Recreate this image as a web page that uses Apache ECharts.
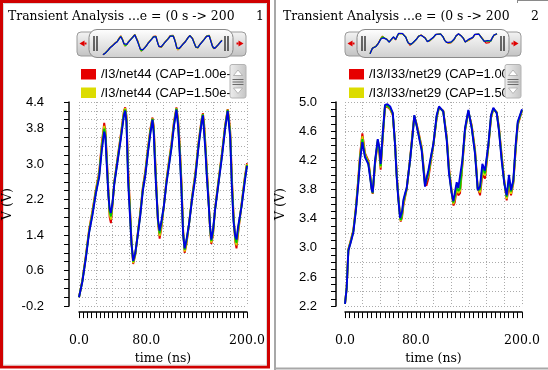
<!DOCTYPE html>
<html><head><meta charset="utf-8">
<script src="https://cdn.jsdelivr.net/npm/echarts@6/dist/echarts.min.js"></script>
<style>html,body{margin:0;padding:0;background:#fff}#c{width:548px;height:370px}</style>
</head><body><div id="c"></div>
<script>
// ---------- DATA ----------
const seriesColors = ['#e00000', '#d4d400', '#00c800', '#0000e0'];
const legendLeft = ['/I3/net44 (CAP=1.00e-1', '/I3/net44 (CAP=1.50e-1'];
const legendRight = ['/I3/I33/net29 (CAP=1.00e', '/I3/I33/net29 (CAP=1.50e'];
const titleLeft = 'Transient Analysis ...e = (0 s -> 200';
const titleRight = 'Transient Analysis ...e = (0 s -> 200';
const xTickLabels = ['0.0', '80.0', '200.0'];
const yTickLabelsLeft = ['-0.2', '0.6', '1.4', '2.2', '3.0', '3.8', '4.4'];
const yTickLabelsRight = ['2.2', '2.6', '3.0', '3.4', '3.8', '4.2', '4.6', '5.0'];

// left panel: /I3/net44, time (ns)
const timeL = [0,4,8,12,16,20,24,27,30,31.5,33,35,36.5,38,40,42,46,50,53.5,55,56.5,58.5,60.5,62.5,64.5,67,70,73,76,79,82,85,87.5,89,90.5,92,94,96,98,101,104,107,110,113,116,118,120,122,124,125.8,128,131,134.5,138.5,142.5,146,147.5,149,150.5,152,154,156,157.5,159.5,162,166,170,174,177,178.5,180,182,184,186,187.5,189.5,193.5,197.5,200];
const redL = [0.0,0.38,0.92,1.52,1.95,2.42,2.82,3.45,3.93,3.75,3.2,2.4,1.8,1.67,2.1,2.6,3.15,3.7,4.2,4.28,4.1,2.9,2.1,1.25,0.75,0.95,1.45,1.92,2.48,2.85,3.35,3.8,4.05,3.85,3.2,2.55,1.7,1.32,1.55,2.05,2.62,3.05,3.45,3.95,4.28,4.0,3.4,2.6,1.5,1.0,1.2,1.65,2.25,2.8,3.52,4.02,4.15,3.9,3.45,2.95,2.3,1.55,1.2,1.4,2.0,2.62,3.22,3.88,4.24,4.05,3.75,2.7,1.85,1.25,1.1,1.45,2.1,2.72,3.02];
const yellowL = [0.0,0.37,0.9,1.5,1.92,2.39,2.78,3.4,3.86,3.7,3.14,2.37,1.87,1.75,2.12,2.58,3.12,3.67,4.17,4.26,4.05,2.8,2.03,1.23,0.77,0.97,1.43,1.9,2.45,2.82,3.32,3.77,4.03,3.8,3.14,2.5,1.72,1.38,1.6,2.05,2.6,3.02,3.42,3.92,4.26,3.95,3.33,2.54,1.47,1.03,1.23,1.65,2.23,2.77,3.49,4.0,4.13,3.83,3.4,2.89,2.27,1.57,1.23,1.43,1.99,2.6,3.2,3.85,4.23,4.0,3.7,2.63,1.8,1.29,1.17,1.5,2.08,2.69,3.0];
const greenL = [0.0,0.36,0.88,1.47,1.88,2.36,2.74,3.34,3.8,3.65,3.07,2.33,1.93,1.82,2.14,2.57,3.1,3.63,4.13,4.23,4.0,2.7,1.97,1.22,0.8,0.98,1.42,1.87,2.43,2.78,3.28,3.73,4.02,3.75,3.07,2.45,1.74,1.44,1.65,2.05,2.57,2.98,3.38,3.88,4.25,3.9,3.27,2.47,1.43,1.07,1.27,1.65,2.21,2.73,3.46,3.97,4.12,3.77,3.35,2.83,2.23,1.58,1.27,1.47,1.98,2.57,3.17,3.83,4.22,3.95,3.65,2.55,1.75,1.33,1.23,1.55,2.06,2.66,2.98];
const blueL = [0.0,0.35,0.86,1.45,1.85,2.33,2.7,3.29,3.73,3.6,3.0,2.3,2.0,1.9,2.15,2.55,3.07,3.6,4.1,4.2,3.95,2.6,1.9,1.2,0.82,1.0,1.4,1.85,2.4,2.75,3.25,3.7,4.0,3.7,3.0,2.4,1.75,1.5,1.7,2.05,2.55,2.95,3.35,3.85,4.23,3.85,3.2,2.4,1.4,1.1,1.3,1.65,2.19,2.7,3.43,3.95,4.1,3.7,3.3,2.77,2.2,1.6,1.3,1.5,1.97,2.55,3.14,3.8,4.2,3.9,3.6,2.48,1.7,1.38,1.3,1.6,2.04,2.63,2.96];

// right panel: /I3/I33/net29, time (ns)
const timeR = [0,1.9,3.8,6.4,9.4,12.4,15,17,19.6,21,22.6,26.3,28,30.2,31.3,34,37,38.8,40.3,42.6,45.2,48,51,54,56.5,58.4,60.3,62.2,63,64.5,66,68,69.7,73.5,76.5,78.3,80.5,82.9,86.7,90.4,92,94.2,97.2,99.8,103.6,106.2,111,115,117.5,120.5,122.4,124,126.2,128,130,132.6,135.6,139.4,143.2,146.9,150,152.6,155.2,158.2,162,165,167.6,171.4,174,177,180,182.7,185.3,187.6,190.2,192.9,195.2,200];
const redR = [2.23,2.45,2.98,3.1,3.24,3.57,3.95,4.28,4.57,4.45,4.3,4.2,4.05,3.82,3.74,4.15,4.45,4.3,4.07,4.5,4.93,4.93,4.9,4.82,4.45,4.02,3.7,3.45,3.36,3.42,3.58,3.7,3.8,4.22,4.6,4.8,4.72,4.6,4.38,3.9,3.85,3.95,4.2,4.4,4.78,4.92,4.88,4.52,4.1,3.78,3.58,3.62,3.8,3.72,3.75,4.12,4.6,4.86,4.68,4.35,3.82,3.72,4.0,3.95,4.38,4.78,4.9,4.86,4.65,4.28,3.92,3.65,3.85,3.72,3.88,4.35,4.68,4.88];
const yellowR = [2.23,2.45,2.97,3.09,3.23,3.55,3.93,4.25,4.53,4.42,4.28,4.18,4.03,3.81,3.75,4.17,4.46,4.33,4.1,4.52,4.94,4.94,4.91,4.83,4.44,4.0,3.69,3.43,3.37,3.45,3.61,3.72,3.81,4.21,4.59,4.81,4.71,4.59,4.36,3.88,3.88,3.99,4.22,4.41,4.79,4.93,4.88,4.5,4.07,3.77,3.6,3.66,3.83,3.75,3.78,4.15,4.61,4.87,4.67,4.33,3.81,3.76,4.05,3.99,4.39,4.79,4.91,4.86,4.63,4.25,3.91,3.67,3.9,3.74,3.9,4.37,4.7,4.89];
const greenR = [2.23,2.45,2.97,3.08,3.22,3.54,3.9,4.22,4.49,4.38,4.26,4.16,4.02,3.8,3.75,4.18,4.48,4.35,4.12,4.54,4.95,4.95,4.92,4.84,4.43,3.99,3.67,3.42,3.38,3.47,3.63,3.73,3.81,4.2,4.57,4.81,4.7,4.57,4.35,3.86,3.92,4.02,4.24,4.41,4.8,4.93,4.87,4.49,4.05,3.76,3.62,3.7,3.86,3.78,3.81,4.17,4.62,4.88,4.65,4.31,3.8,3.8,4.1,4.02,4.4,4.8,4.91,4.85,4.62,4.23,3.89,3.7,3.95,3.77,3.91,4.4,4.71,4.89];
const blueR = [2.23,2.45,2.96,3.07,3.21,3.52,3.88,4.2,4.45,4.35,4.24,4.15,4.0,3.79,3.76,4.2,4.49,4.38,4.15,4.56,4.96,4.97,4.94,4.85,4.42,3.97,3.66,3.41,3.39,3.5,3.66,3.75,3.82,4.2,4.56,4.82,4.7,4.56,4.33,3.84,3.95,4.06,4.26,4.42,4.82,4.94,4.87,4.47,4.02,3.75,3.64,3.75,3.9,3.82,3.84,4.2,4.64,4.89,4.64,4.29,3.79,3.84,4.15,4.06,4.42,4.82,4.92,4.85,4.6,4.2,3.88,3.72,4.0,3.79,3.93,4.42,4.73,4.9];

// ---------- CHART ----------
const SERIF = 'DejaVu Serif';
const SANS = 'Liberation Sans';

function pairs(times, vals) { return times.map((t, i) => [t, vals[i]]); }
function lines(times, arrs, xi, yi, w, zBase) {
  return arrs.map((a, k) => ({
    type: 'line', xAxisIndex: xi, yAxisIndex: yi,
    data: pairs(times, a), showSymbol: false, symbol: 'none',
    lineStyle: { color: seriesColors[k], width: w }, itemStyle: { color: seriesColors[k] },
    silent: true, animation: false, z: zBase + k
  }));
}
const dotted = { show: true, lineStyle: { color: '#ababab', type: [1, 2], width: 1 } };
function mainX(gi) {
  return {
    gridIndex: gi, type: 'value', min: 0, max: 200, interval: 20, offset: 6,
    axisLine: { show: true, onZero: false, lineStyle: { color: '#000', width: 1.5 } },
    axisTick: { show: true, length: 6, lineStyle: { color: '#000', width: 1 } },
    minorTick: { show: true, splitNumber: 4, length: 6, lineStyle: { color: '#000', width: 1 } },
    splitLine: dotted, minorSplitLine: { show: false },
    axisLabel: {
      margin: 22, fontFamily: SERIF, fontSize: 12.5, color: '#000', showMinLabel: true, showMaxLabel: true, hideOverlap: false,
      formatter: v => { const s = v.toFixed(1); return xTickLabels.includes(s) ? s : ''; }
    },
    name: 'time (ns)', nameLocation: 'middle', nameGap: 39,
    nameTextStyle: { fontFamily: SERIF, fontSize: 12.5, color: '#000' }
  };
}
function mainY(gi, min, max, labels, offset, margin, nameGap, minor) {
  return {
    gridIndex: gi, type: 'value', min: min, max: max, interval: 0.2, offset: offset,
    axisLine: { show: true, onZero: false, lineStyle: { color: '#000', width: 1.5 } },
    axisTick: { show: true, length: 5, lineStyle: { color: '#000', width: 1 } },
    minorTick: { show: minor, splitNumber: 2, length: 5, lineStyle: { color: '#000', width: 1 } },
    splitLine: dotted, minorSplitLine: { show: false },
    axisLabel: {
      margin: margin, fontFamily: SANS, fontSize: 13, color: '#000', showMinLabel: true, showMaxLabel: true, hideOverlap: false,
      padding: [4, 0, 0, 0],
      formatter: v => { const s = v.toFixed(1); return labels.includes(s) ? s : ''; }
    },
    name: 'V (V)', nameLocation: 'middle', nameGap: nameGap,
    nameTextStyle: { fontFamily: SERIF, fontSize: 12.5, color: '#000' }
  };
}

function vgrad(c0, c1) { return { type: 'linear', x: 0, y: 0, x2: 0, y2: 1, colorStops: [{ offset: 0, color: c0 }, { offset: 1, color: c1 }] }; }
function hgrad(c0, c1) { return { type: 'linear', x: 0, y: 0, x2: 1, y2: 0, colorStops: [{ offset: 0, color: c0 }, { offset: 1, color: c1 }] }; }

function scroller(x0, x1, ix0, ix1) {
  const els = [];
  els.push({ type: 'rect', shape: { x: x0, y: 32, width: x1 - x0, height: 24, r: 4 }, style: { fill: vgrad('#f4f4f4', '#c2c2c2'), stroke: '#9a9a9a', lineWidth: 1 } });
  els.push({ type: 'polygon', shape: { points: [[x0 + 2.5, 43.5], [x0 + 7.5, 40.5], [x0 + 7.5, 46.5]] }, style: { fill: '#e00000' } });
  els.push({ type: 'rect', shape: { x: x0 + 7.5, y: 42.5, width: 2, height: 2 }, style: { fill: '#e00000' } });
  els.push({ type: 'polygon', shape: { points: [[x1 - 2.5, 43.5], [x1 - 7.5, 40.5], [x1 - 7.5, 46.5]] }, style: { fill: '#e00000' } });
  els.push({ type: 'rect', shape: { x: x1 - 9.5, y: 42.5, width: 2, height: 2 }, style: { fill: '#e00000' } });
  els.push({ type: 'rect', shape: { x: ix0, y: 29.5, width: ix1 - ix0, height: 28, r: 8 }, style: { fill: vgrad('#ffffff', '#cfcfcf'), stroke: '#8a8a8a', lineWidth: 1 } });
  [ix0 + 5, ix0 + 8, ix1 - 8, ix1 - 5].forEach(x => {
    els.push({ type: 'line', shape: { x1: x, y1: 36, x2: x, y2: 51 }, style: { stroke: '#202020', lineWidth: 1.3 } });
  });
  return els;
}
function vscroll(x) {
  const els = [];
  els.push({ type: 'rect', shape: { x: x, y: 64.5, width: 16, height: 33.5, r: 2 }, style: { fill: hgrad('#eeeeee', '#c4c4c4'), stroke: '#b4b4b4', lineWidth: 1 } });
  els.push({ type: 'polygon', shape: { points: [[x + 8, 70], [x + 12.5, 75.5], [x + 3.5, 75.5]] }, style: { fill: '#ffffff', stroke: '#a8a8a8', lineWidth: 0.8 } });
  [79.5, 82, 84.5].forEach(y => {
    els.push({ type: 'line', shape: { x1: x + 2.5, y1: y, x2: x + 13.5, y2: y }, style: { stroke: '#6a6a6a', lineWidth: 1 } });
  });
  els.push({ type: 'polygon', shape: { points: [[x + 3.5, 88], [x + 12.5, 88], [x + 8, 93.5]] }, style: { fill: '#ffffff', stroke: '#a8a8a8', lineWidth: 0.8 } });
  return els;
}
function legendItems(sx, tx, labels) {
  const els = [];
  const swatch = ['#e60000', '#dcdc00'];
  labels.forEach((lab, k) => {
    const y = 69 + k * 18.5;
    els.push({ type: 'rect', shape: { x: sx, y: y, width: 15, height: 10.5 }, style: { fill: swatch[k] } });
    els.push({ type: 'text', style: { x: tx, y: y + 5.5, text: lab, font: '13px ' + SANS, fill: '#000', textVerticalAlign: 'middle', verticalAlign: 'middle' } });
  });
  return els;
}
function text(x, y, s, font, align) {
  return { type: 'text', style: { x: x, y: y, text: s, font: font, fill: '#000', textAlign: align || 'left', align: align || 'left', textVerticalAlign: 'middle', verticalAlign: 'middle' } };
}

const graphics = [].concat(
  [
    { type: 'rect', shape: { x: 1.5, y: 1.5, width: 267, height: 365.5 }, style: { fill: 'none', stroke: '#d00000', lineWidth: 3 } },
    { type: 'rect', shape: { x: 3.5, y: 3.5, width: 263, height: 361.5 }, style: { fill: 'none', stroke: '#dadada', lineWidth: 1 } },
    { type: 'line', shape: { x1: 275, y1: 0, x2: 275, y2: 370 }, style: { stroke: '#a8a8a8', lineWidth: 2 } },
    { type: 'line', shape: { x1: 275, y1: 368.5, x2: 548, y2: 368.5 }, style: { stroke: '#a8a8a8', lineWidth: 2 } },
    { type: 'line', shape: { x1: 517, y1: 0.5, x2: 548, y2: 0.5 }, style: { stroke: '#8a8a8a', lineWidth: 1 } },
    { type: 'line', shape: { x1: 517.5, y1: 0, x2: 517.5, y2: 3 }, style: { stroke: '#8a8a8a', lineWidth: 1 } },
    text(8, 17, titleLeft, '12.4px ' + SERIF),
    text(260, 17, '1', '12.4px ' + SERIF, 'center'),
    text(283, 17, titleRight, '12.4px ' + SERIF),
    text(535, 17, '2', '12.4px ' + SERIF, 'center')
  ],
  scroller(77, 246, 89, 233),
  scroller(345, 521, 357, 509),
  legendItems(81, 101, legendLeft),
  legendItems(349, 369, legendRight),
  vscroll(230),
  vscroll(505)
);

const option = {
  backgroundColor: '#ffffff',
  animation: false,
  grid: [
    { left: 78, top: 102, width: 169, height: 208, containLabel: false },
    { left: 345, top: 102, width: 177, height: 208, containLabel: false },
    { left: 103, top: 34, width: 119, height: 21, containLabel: false },
    { left: 370, top: 33, width: 127, height: 21, containLabel: false }
  ],
  xAxis: [
    mainX(0), mainX(1),
    { gridIndex: 2, type: 'value', min: 0, max: 200, show: false },
    { gridIndex: 3, type: 'value', min: 0, max: 200, show: false }
  ],
  yAxis: [
    mainY(0, -0.2, 4.4, yTickLabelsLeft, 10, 25, 55, false),
    mainY(1, 2.2, 5.0, yTickLabelsRight, 9, 19, 49, true),
    { gridIndex: 2, type: 'value', min: -0.05, max: 4.3, show: false },
    { gridIndex: 3, type: 'value', min: 2.2, max: 5.0, show: false }
  ],
  series: [].concat(
    lines(timeL, [redL, yellowL, greenL, blueL], 0, 0, 1.9, 2),
    lines(timeR, [redR, yellowR, greenR, blueR], 1, 1, 1.9, 2),
    lines(timeL, [redL, yellowL, greenL, blueL], 2, 2, 1.2, 10),
    lines(timeR, [redR, yellowR, greenR, blueR], 3, 3, 1.2, 10)
  ),
  graphic: { elements: graphics }
};

const chart = echarts.init(document.getElementById('c'), null, { renderer: 'canvas' });
chart.setOption(option);
</script></body></html>
